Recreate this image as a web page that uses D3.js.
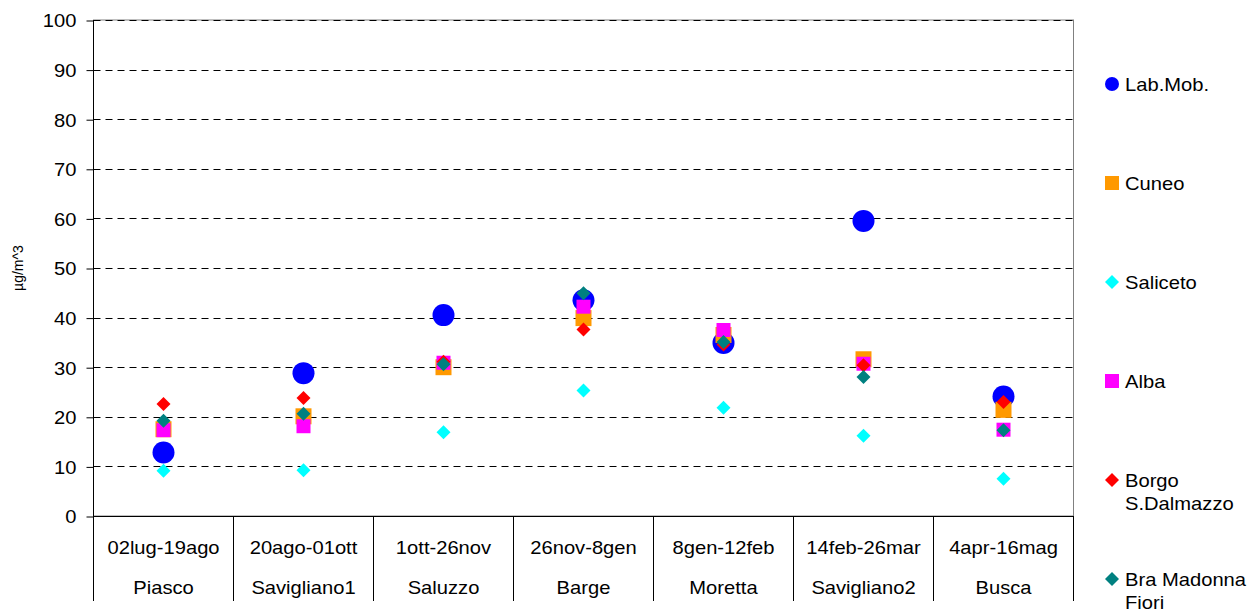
<!DOCTYPE html>
<html><head><meta charset="utf-8">
<script src="https://cdn.jsdelivr.net/npm/d3@7"></script>
<style>
html,body{margin:0;padding:0;background:#fff;}
svg{display:block;font-family:"Liberation Sans",Arial,sans-serif;}
</style></head>
<body><svg id="c" width="1248" height="609"></svg>
<script>
const periods = ["02lug-19ago","20ago-01ott","1ott-26nov","26nov-8gen","8gen-12feb","14feb-26mar","4apr-16mag"];
const sites = ["Piasco","Savigliano1","Saluzzo","Barge","Moretta","Savigliano2","Busca"];
const seriesNames = ["Lab.Mob.","Cuneo","Saliceto","Alba","Borgo S.Dalmazzo","Bra Madonna Fiori"];
const labMob   = [12.8, 28.8, 40.5, 43.5, 34.9, 59.5, 24.1];
const cuneo    = [17.5, 20.1, 30.0, 39.9, 36.5, 31.6, 21.4];
const saliceto = [9.1, 9.2, 16.9, 25.3, 21.8, 16.2, 7.5];
const alba     = [17.3, 18.1, 30.9, 42.2, 37.5, 30.7, 17.4];
const borgo    = [22.6, 23.8, 31.1, 37.6, 34.6, 30.4, 23.0];
const bra      = [19.2, 20.6, 30.6, 44.9, 35.1, 28.0, 17.3];
const yTicks   = [0,10,20,30,40,50,60,70,80,90,100];
const yTitle   = "µg/m^3";

const colors = ["#0000FF","#FF9900","#00FFFF","#FF00FF","#FF0000","#008080"];
const shapes = ["circle","square","diamond","square","diamond","diamond"];
const sizes  = [11, 8, 7, 7, 7, 7]; // half-size in plot
const values = [labMob, cuneo, saliceto, alba, borgo, bra];
const legendLines = [["Lab.Mob."],["Cuneo"],["Saliceto"],["Alba"],["Borgo","S.Dalmazzo"],["Bra Madonna","Fiori"]];

const SX = 1.12;
const L = 93.5, R = 1073.5, T = 20, B = 516;
const svg = d3.select("#c");
const x = d3.scaleBand().domain(periods).range([L, R]);
const y = d3.scaleLinear().domain([0,100]).range([B, T]);

function markerPath(shape, h){
  if(shape==="square") return `M${-h},${-h}H${h}V${h}H${-h}Z`;
  if(shape==="diamond") return `M0,${-h}L${h},0L0,${h}L${-h},0Z`;
  return d3.arc()({innerRadius:0, outerRadius:h, startAngle:0, endAngle:2*Math.PI});
}

// plot border (grey)
svg.append("rect").attr("x",L).attr("y",T).attr("width",R-L).attr("height",B-T)
  .attr("fill","none").attr("stroke","#808080").attr("stroke-width",1);

// gridlines
svg.append("g").selectAll("line").data(yTicks.filter(d=>d>0)).join("line")
  .attr("x1",L).attr("x2",R)
  .attr("y1",d=>Math.round(y(d))+0.5).attr("y2",d=>Math.round(y(d))+0.5)
  .attr("stroke","#000").attr("stroke-width",1).attr("stroke-dasharray","7,5");

// y axis
const yAxis = svg.append("g").attr("transform",`translate(${L},0)`)
  .call(d3.axisLeft(y).tickValues(yTicks).tickSize(7).tickPadding(0));
yAxis.select(".domain").remove();
yAxis.selectAll(".tick line").attr("stroke","#000").attr("transform","translate(0,0.5)");
yAxis.selectAll(".tick text").attr("x",0).attr("dy","0.36em")
  .attr("transform",`translate(-17,0.5) scale(${SX},1)`)
  .style("font-size","18px").style("font-family","'Liberation Sans',Arial,sans-serif").attr("fill","#000");
svg.append("line").attr("x1",L).attr("x2",L).attr("y1",T).attr("y2",601).attr("stroke","#000");

// x axis line and category separators
svg.append("line").attr("x1",L).attr("x2",R).attr("y1",B+0.5).attr("y2",B+0.5).attr("stroke","#000");
svg.append("g").selectAll("line").data(periods).join("line")
  .attr("x1",d=>x(d)+x.bandwidth()).attr("x2",d=>x(d)+x.bandwidth())
  .attr("y1",B).attr("y2",601).attr("stroke","#000");

// category labels
const cat = svg.append("g").selectAll("g").data(periods).join("g");
cat.append("text").attr("transform",d=>`translate(${x(d)+x.bandwidth()/2},554) scale(${SX},1)`)
  .attr("text-anchor","middle").style("font-size","18px").text(d=>d);
cat.append("text").attr("transform",(d,i)=>`translate(${x(d)+x.bandwidth()/2},594) scale(${SX},1)`)
  .attr("text-anchor","middle").style("font-size","18px").text((d,i)=>sites[i]);

// y title
svg.append("text").attr("transform","translate(23,268) rotate(-90)")
  .attr("text-anchor","middle").style("font-size","14px").text(yTitle);

// markers
values.forEach((vals,si)=>{
  svg.append("g").selectAll("path").data(vals).join("path")
    .attr("transform",(d,i)=>`translate(${x(periods[i])+x.bandwidth()/2},${y(d)})`)
    .attr("d",markerPath(shapes[si], sizes[si]))
    .attr("fill",colors[si]);
});

// legend
const legY = [84,183,282,381,480,579];
const leg = svg.append("g").selectAll("g").data(seriesNames).join("g")
  .attr("transform",(d,i)=>`translate(1112,${legY[i]})`);
leg.append("path").attr("d",(d,i)=>markerPath(shapes[i], i===0?7:7)).attr("fill",(d,i)=>colors[i]);
leg.each(function(d,i){
  const g = d3.select(this);
  legendLines[i].forEach((t,k)=>{
    g.append("text").attr("transform",`translate(13,${6.5+k*23}) scale(${SX},1)`)
      .style("font-size","18px").text(t);
  });
});
</script></body></html>
